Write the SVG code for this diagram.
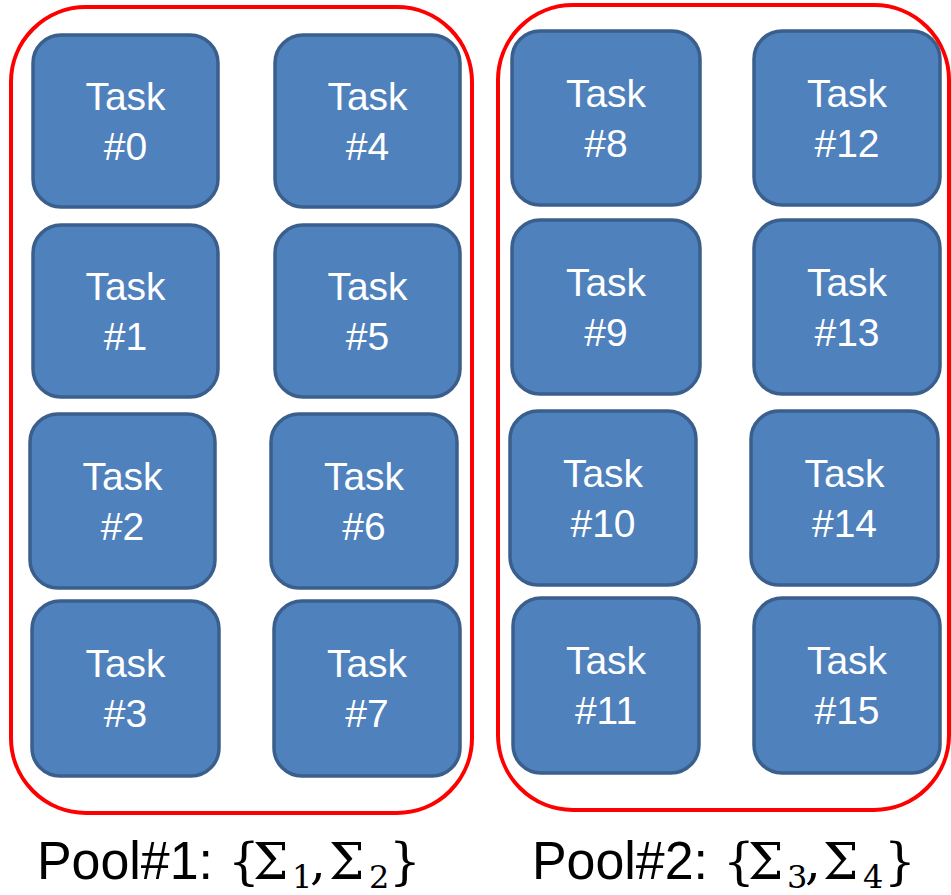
<svg xmlns="http://www.w3.org/2000/svg" width="951" height="895" viewBox="0 0 951 895">
  <style>
    .pool { fill: none; stroke: #ff0000; stroke-width: 4; }
    .task rect { fill: #4f81bd; stroke: #3a5f8c; stroke-width: 3.5; }
    .task text { fill: #ffffff; font-family: "Liberation Sans", Arial, sans-serif; font-size: 39px; text-anchor: middle; }
    .lbl { fill: #000000; font-family: "Liberation Sans", Arial, sans-serif; font-size: 54px; }
    .math { fill: #000000; font-family: "DejaVu Serif", "Liberation Serif", serif; font-size: 50px; }
    .sub { font-size: 32px; }
  </style>

  <!-- pools -->
  <g id="pool1">
    <rect class="pool" x="11" y="7" width="461" height="806" rx="75" ry="75"/>
  </g>
  <g id="pool2">
    <rect class="pool" x="498" y="5" width="451" height="805" rx="75" ry="75"/>
  </g>

  <!-- pool 1 tasks -->
  <g id="task0" class="task"><rect x="33" y="35" width="185" height="172" rx="28"/><text x="125.5" y="110">Task</text><text x="125.5" y="160">#0</text></g>
  <g id="task4" class="task"><rect x="275" y="35" width="185" height="172" rx="28"/><text x="367.5" y="110">Task</text><text x="367.5" y="160">#4</text></g>
  <g id="task1" class="task"><rect x="33" y="225" width="185" height="172" rx="28"/><text x="125.5" y="300">Task</text><text x="125.5" y="350">#1</text></g>
  <g id="task5" class="task"><rect x="275" y="225" width="185" height="172" rx="28"/><text x="367.5" y="300">Task</text><text x="367.5" y="350">#5</text></g>
  <g id="task2" class="task"><rect x="30" y="414" width="185" height="174" rx="28"/><text x="122.5" y="490">Task</text><text x="122.5" y="540">#2</text></g>
  <g id="task6" class="task"><rect x="271" y="414" width="186" height="174" rx="28"/><text x="364" y="490">Task</text><text x="364" y="540">#6</text></g>
  <g id="task3" class="task"><rect x="32" y="601" width="187" height="175" rx="28"/><text x="125.5" y="677">Task</text><text x="125.5" y="727">#3</text></g>
  <g id="task7" class="task"><rect x="274" y="601" width="186" height="175" rx="28"/><text x="367" y="677">Task</text><text x="367" y="727">#7</text></g>

  <!-- pool 2 tasks -->
  <g id="task8" class="task"><rect x="512" y="31" width="188" height="174" rx="28"/><text x="606" y="107">Task</text><text x="606" y="157">#8</text></g>
  <g id="task12" class="task"><rect x="754" y="31" width="186" height="174" rx="28"/><text x="847" y="107">Task</text><text x="847" y="157">#12</text></g>
  <g id="task9" class="task"><rect x="512" y="220" width="188" height="174" rx="28"/><text x="606" y="296">Task</text><text x="606" y="346">#9</text></g>
  <g id="task13" class="task"><rect x="754" y="220" width="186" height="174" rx="28"/><text x="847" y="296">Task</text><text x="847" y="346">#13</text></g>
  <g id="task10" class="task"><rect x="510" y="411" width="186" height="174" rx="28"/><text x="603" y="487">Task</text><text x="603" y="537">#10</text></g>
  <g id="task14" class="task"><rect x="751" y="411" width="187" height="174" rx="28"/><text x="844.5" y="487">Task</text><text x="844.5" y="537">#14</text></g>
  <g id="task11" class="task"><rect x="513" y="598" width="186" height="175" rx="28"/><text x="606" y="674">Task</text><text x="606" y="724">#11</text></g>
  <g id="task15" class="task"><rect x="754" y="598" width="186" height="175" rx="28"/><text x="847" y="674">Task</text><text x="847" y="724">#15</text></g>

  <!-- pool captions -->
  <g id="caption1">
    <text class="lbl" x="37" y="879" textLength="176" lengthAdjust="spacingAndGlyphs">Pool#1:</text>
    <text class="math" y="879"><tspan x="228">{</tspan><tspan x="253">Σ</tspan><tspan class="sub" x="292" y="888">1</tspan><tspan x="310" y="879">,</tspan><tspan x="329">Σ</tspan><tspan class="sub" x="369" y="888">2</tspan><tspan x="389" y="879">}</tspan></text>
  </g>
  <g id="caption2">
    <text class="lbl" x="532" y="879" textLength="176" lengthAdjust="spacingAndGlyphs">Pool#2:</text>
    <text class="math" y="879"><tspan x="723">{</tspan><tspan x="748">Σ</tspan><tspan class="sub" x="787" y="888">3</tspan><tspan x="805" y="879">,</tspan><tspan x="823">Σ</tspan><tspan class="sub" x="863" y="888">4</tspan><tspan x="884" y="879">}</tspan></text>
  </g>
</svg>
